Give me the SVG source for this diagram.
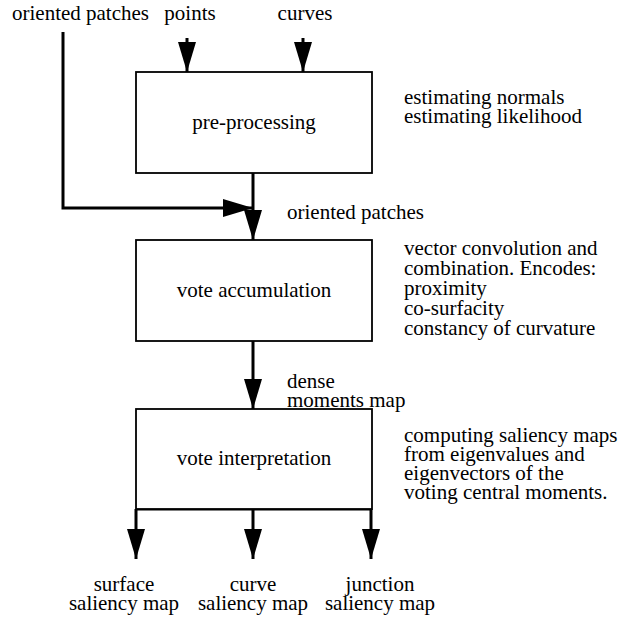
<svg xmlns="http://www.w3.org/2000/svg" width="621" height="621" viewBox="0 0 621 621">
<style>
text{font-family:'Liberation Serif','Tinos','DejaVu Serif',serif;font-size:21px;fill:#000}
.c{text-anchor:middle}
.box{fill:#fff;stroke:#000;stroke-width:1.8}
.ln{fill:none;stroke:#000;stroke-width:3}
</style>
<defs>
<marker id="ah" markerUnits="userSpaceOnUse" markerWidth="32" markerHeight="20" refX="30" refY="9" orient="auto">
<path d="M0,0 L30,9 L0,18 Z" fill="#000"/>
</marker>
</defs>
<rect width="621" height="621" fill="#fff"/>
<g id="connectors">
<line class="ln" x1="187" y1="38" x2="187" y2="72" marker-end="url(#ah)"/>
<line class="ln" x1="303" y1="38" x2="303" y2="72" marker-end="url(#ah)"/>
<polyline class="ln" points="63,32 63,208 253,208" marker-end="url(#ah)"/>
<line class="ln" x1="253" y1="173" x2="253" y2="240" marker-end="url(#ah)"/>
<line class="ln" x1="253" y1="341" x2="253" y2="409" marker-end="url(#ah)"/>
<line class="ln" x1="136" y1="509" x2="372" y2="509"/>
<line class="ln" x1="136" y1="509" x2="136" y2="559" marker-end="url(#ah)"/>
<line class="ln" x1="253" y1="509" x2="253" y2="559" marker-end="url(#ah)"/>
<line class="ln" x1="371" y1="509" x2="371" y2="559" marker-end="url(#ah)"/>
</g>
<g id="inputs">
<text x="12" y="20">oriented patches</text>
<text class="c" x="190" y="20">points</text>
<text class="c" x="305" y="20">curves</text>
</g>
<g id="preprocessing">
<rect class="box" x="136" y="72" width="236" height="101"/>
<text class="c" x="254" y="129">pre-processing</text>
<text x="404" y="104">estimating normals</text>
<text x="404" y="123">estimating likelihood</text>
</g>
<text x="287" y="219">oriented patches</text>
<g id="accumulation">
<rect class="box" x="136" y="240" width="236" height="101"/>
<text class="c" x="254" y="297">vote accumulation</text>
<text x="404" y="255">vector convolution and</text>
<text x="404" y="275">combination. Encodes:</text>
<text x="404" y="295">proximity</text>
<text x="404" y="315">co-surfacity</text>
<text x="404" y="335">constancy of curvature</text>
</g>
<text x="287" y="388">dense</text>
<text x="287" y="407">moments map</text>
<g id="interpretation">
<rect class="box" x="136" y="409" width="236" height="100"/>
<text class="c" x="254" y="465">vote interpretation</text>
<text x="404" y="442">computing saliency maps</text>
<text x="404" y="461">from eigenvalues and</text>
<text x="404" y="480">eigenvectors of the</text>
<text x="404" y="499">voting central moments.</text>
</g>
<g id="outputs">
<text class="c" x="124" y="591">surface</text>
<text class="c" x="124" y="610">saliency map</text>
<text class="c" x="253" y="591">curve</text>
<text class="c" x="253" y="610">saliency map</text>
<text class="c" x="380" y="591">junction</text>
<text class="c" x="380" y="610">saliency map</text>
</g>
</svg>
